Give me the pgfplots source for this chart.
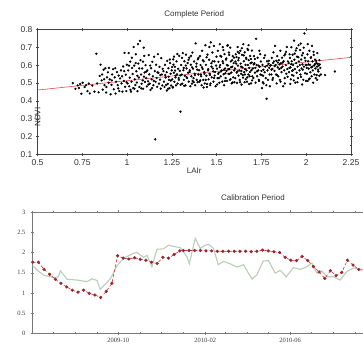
\documentclass[border=0pt]{standalone}
\usepackage{fontspec}
\setmainfont{Liberation Sans}
\newfontfamily\tnr{Liberation Serif}
\usepackage{pgfplots}
\pgfplotsset{compat=1.18}
\definecolor{regred}{RGB}{225,70,80}
\definecolor{simred}{RGB}{220,50,50}
\definecolor{markred}{RGB}{150,40,50}
\definecolor{obsgreen}{RGB}{185,205,185}
\definecolor{axgray}{RGB}{120,120,120}
\begin{document}
\begin{tikzpicture}[x=1pt,y=1pt]
\path[use as bounding box] (0,0) rectangle (363,347);
\clip (0,0) rectangle (363,347);
\begin{axis}[
  at={(37.5pt,192.5pt)}, anchor=south west,
  width=313.5pt, height=125pt, scale only axis,
  xmin=0.5, xmax=2.25, ymin=0.1, ymax=0.8,
  xtick={0.5,0.75,1,1.25,1.5,1.75,2,2.25},
  xticklabels={0.5,0.75,1,1.25,1.5,1.75,2,2.25},
  ytick={0.1,0.2,0.3,0.4,0.5,0.6,0.7,0.8},
  yticklabels={0.1,0.2,0.3,0.4,0.5,0.6,0.7,0.8},
  minor x tick num=9, minor y tick num=1,
  tick align=center, major tick length=3pt, minor tick length=1.5pt,
  axis line style={black!75, line width=0.6pt},
  tick style={black!70, line width=0.5pt},
  tick label style={font=\fontsize{8.5}{9}\selectfont, text=black!80},
  /pgf/number format/assume math mode=true,
  every axis title shift=0pt,
  title={Complete Period},
  title style={font=\fontsize{8}{9}\selectfont, text=black!80, at={(axis description cs:0.5,1)}, anchor=base, yshift=13pt},
  xlabel={LAIr},
  xlabel style={font=\fontsize{8}{9}\selectfont, text=black!80, at={(axis description cs:0.5,0)}, anchor=base, yshift=-19pt},
  ylabel={NDVI},
  ylabel style={font=\fontsize{8}{9}\selectfont, text=black!80, at={(axis description cs:0,0.5)}, anchor=center, xshift=-25pt},
]
\addplot[only marks, mark=*, mark size=0.95pt, black] table[row sep=\\] {
x y\\
0.697 0.500\\ 0.712 0.468\\ 0.724 0.487\\ 0.738 0.495\\ 0.745 0.440\\ 0.752 0.502\\ 0.763 0.478\\ 0.779 0.455\\ 0.786 0.497\\ 0.792 0.442\\ 0.731 0.472\\ 0.771 0.488\\
0.806 0.486\\ 0.818 0.452\\ 0.829 0.664\\ 0.833 0.498\\ 0.841 0.448\\ 0.847 0.540\\ 0.852 0.603\\ 0.858 0.515\\ 0.864 0.463\\ 0.869 0.575\\ 0.874 0.488\\ 0.879 0.583\\ 0.883 0.447\\ 0.888 0.532\\ 0.893 0.560\\ 0.897 0.502\\ 0.861 0.548\\ 0.872 0.521\\ 0.885 0.478\\ 0.899 0.585\\
0.903 0.521\\ 0.908 0.437\\ 0.913 0.490\\ 0.917 0.548\\ 0.922 0.578\\ 0.926 0.465\\ 0.931 0.532\\ 0.936 0.441\\ 0.939 0.507\\ 0.944 0.561\\ 0.948 0.488\\ 0.953 0.542\\ 0.957 0.455\\ 0.961 0.526\\ 0.966 0.571\\ 0.969 0.498\\ 0.974 0.452\\ 0.978 0.593\\ 0.982 0.512\\ 0.986 0.669\\ 0.989 0.479\\ 0.993 0.547\\ 0.996 0.455\\ 0.999 0.603\\ 0.915 0.515\\ 0.934 0.583\\ 0.951 0.470\\ 0.972 0.538\\ 0.984 0.567\\ 0.997 0.505\\
1.003 0.498\\ 1.006 0.571\\ 1.009 0.668\\ 1.012 0.482\\ 1.015 0.530\\ 1.018 0.620\\ 1.022 0.452\\ 1.025 0.508\\ 1.027 0.642\\ 1.031 0.551\\ 1.034 0.472\\ 1.037 0.702\\ 1.040 0.598\\ 1.043 0.521\\ 1.046 0.489\\ 1.049 0.661\\ 1.052 0.566\\ 1.055 0.503\\ 1.058 0.455\\ 1.061 0.718\\ 1.063 0.609\\ 1.066 0.531\\ 1.069 0.478\\ 1.072 0.736\\ 1.075 0.628\\ 1.078 0.548\\ 1.081 0.496\\ 1.084 0.582\\ 1.087 0.515\\ 1.090 0.468\\ 1.093 0.698\\ 1.096 0.652\\ 1.098 0.559\\ 1.100 0.507\\ 1.011 0.598\\ 1.028 0.585\\ 1.041 0.468\\ 1.057 0.541\\ 1.068 0.582\\ 1.079 0.470\\ 1.089 0.620\\ 1.019 0.462\\ 1.048 0.612\\ 1.094 0.536\\
1.103 0.600\\ 1.107 0.528\\ 1.110 0.481\\ 1.113 0.571\\ 1.117 0.510\\ 1.121 0.657\\ 1.124 0.549\\ 1.127 0.497\\ 1.131 0.462\\ 1.134 0.583\\ 1.137 0.521\\ 1.141 0.619\\ 1.144 0.538\\ 1.147 0.488\\ 1.151 0.648\\ 1.157 0.185\\ 1.155 0.567\\ 1.159 0.507\\ 1.162 0.603\\ 1.165 0.529\\ 1.168 0.479\\ 1.172 0.662\\ 1.175 0.558\\ 1.178 0.497\\ 1.181 0.591\\ 1.184 0.519\\ 1.188 0.469\\ 1.191 0.640\\ 1.194 0.548\\ 1.197 0.487\\ 1.108 0.565\\ 1.129 0.598\\ 1.149 0.512\\ 1.170 0.560\\ 1.186 0.545\\ 1.119 0.492\\ 1.139 0.472\\ 1.199 0.580\\
1.203 0.567\\ 1.206 0.508\\ 1.209 0.478\\ 1.212 0.602\\ 1.215 0.531\\ 1.218 0.489\\ 1.221 0.561\\ 1.224 0.624\\ 1.227 0.496\\ 1.231 0.583\\ 1.234 0.518\\ 1.237 0.472\\ 1.240 0.612\\ 1.243 0.552\\ 1.246 0.486\\ 1.249 0.571\\ 1.252 0.521\\ 1.255 0.477\\ 1.258 0.633\\ 1.261 0.558\\ 1.264 0.507\\ 1.267 0.591\\ 1.270 0.532\\ 1.273 0.487\\ 1.276 0.622\\ 1.279 0.549\\ 1.282 0.497\\ 1.298 0.340\\ 1.285 0.580\\ 1.288 0.528\\ 1.291 0.652\\ 1.294 0.568\\ 1.297 0.543\\ 1.299 0.491\\ 1.213 0.545\\ 1.229 0.468\\ 1.244 0.514\\ 1.256 0.475\\ 1.268 0.570\\ 1.239 0.632\\ 1.262 0.648\\ 1.281 0.663\\ 1.222 0.458\\ 1.251 0.590\\ 1.271 0.541\\ 1.289 0.518\\ 1.232 0.535\\ 1.259 0.603\\
1.302 0.601\\ 1.305 0.547\\ 1.308 0.497\\ 1.311 0.668\\ 1.314 0.572\\ 1.317 0.518\\ 1.320 0.622\\ 1.323 0.541\\ 1.326 0.487\\ 1.329 0.659\\ 1.332 0.582\\ 1.335 0.528\\ 1.338 0.612\\ 1.341 0.558\\ 1.344 0.508\\ 1.347 0.642\\ 1.350 0.571\\ 1.353 0.482\\ 1.356 0.603\\ 1.359 0.538\\ 1.362 0.497\\ 1.365 0.671\\ 1.368 0.581\\ 1.371 0.528\\ 1.374 0.621\\ 1.377 0.552\\ 1.380 0.488\\ 1.383 0.722\\ 1.386 0.592\\ 1.389 0.518\\ 1.392 0.575\\ 1.395 0.633\\ 1.398 0.548\\ 1.316 0.585\\ 1.333 0.532\\ 1.349 0.562\\ 1.363 0.588\\ 1.379 0.545\\ 1.394 0.505\\ 1.307 0.641\\ 1.328 0.598\\ 1.343 0.630\\ 1.357 0.652\\ 1.372 0.505\\ 1.388 0.609\\ 1.399 0.641\\ 1.319 0.485\\ 1.366 0.512\\
1.402 0.572\\ 1.404 0.508\\ 1.407 0.651\\ 1.410 0.601\\ 1.413 0.538\\ 1.416 0.488\\ 1.419 0.681\\ 1.422 0.579\\ 1.425 0.518\\ 1.428 0.622\\ 1.431 0.561\\ 1.434 0.498\\ 1.437 0.712\\ 1.440 0.602\\ 1.443 0.541\\ 1.446 0.478\\ 1.449 0.659\\ 1.452 0.571\\ 1.455 0.521\\ 1.458 0.631\\ 1.461 0.552\\ 1.464 0.488\\ 1.467 0.728\\ 1.470 0.611\\ 1.473 0.532\\ 1.476 0.671\\ 1.479 0.582\\ 1.482 0.508\\ 1.485 0.708\\ 1.488 0.621\\ 1.491 0.562\\ 1.494 0.482\\ 1.497 0.598\\ 1.499 0.648\\ 1.412 0.548\\ 1.423 0.628\\ 1.432 0.552\\ 1.444 0.645\\ 1.453 0.578\\ 1.462 0.545\\ 1.471 0.592\\ 1.481 0.565\\ 1.489 0.542\\ 1.408 0.515\\ 1.427 0.475\\ 1.447 0.495\\ 1.466 0.498\\ 1.486 0.528\\ 1.439 0.518\\ 1.459 0.702\\ 1.478 0.622\\ 1.418 0.588\\
1.502 0.581\\ 1.505 0.528\\ 1.507 0.681\\ 1.510 0.619\\ 1.512 0.558\\ 1.515 0.502\\ 1.518 0.718\\ 1.520 0.601\\ 1.523 0.538\\ 1.526 0.648\\ 1.528 0.571\\ 1.531 0.508\\ 1.534 0.701\\ 1.536 0.611\\ 1.539 0.549\\ 1.542 0.488\\ 1.544 0.662\\ 1.547 0.582\\ 1.550 0.528\\ 1.552 0.631\\ 1.555 0.568\\ 1.558 0.512\\ 1.560 0.709\\ 1.563 0.598\\ 1.566 0.551\\ 1.568 0.671\\ 1.571 0.579\\ 1.574 0.518\\ 1.576 0.698\\ 1.579 0.621\\ 1.582 0.559\\ 1.584 0.498\\ 1.587 0.592\\ 1.590 0.651\\ 1.592 0.532\\ 1.595 0.612\\ 1.598 0.571\\ 1.599 0.505\\ 1.509 0.552\\ 1.517 0.589\\ 1.524 0.565\\ 1.533 0.622\\ 1.541 0.575\\ 1.549 0.555\\ 1.557 0.601\\ 1.565 0.578\\ 1.573 0.552\\ 1.581 0.589\\ 1.589 0.503\\ 1.597 0.642\\ 1.503 0.492\\ 1.521 0.652\\ 1.538 0.685\\ 1.554 0.638\\ 1.570 0.658\\ 1.586 0.628\\ 1.513 0.528\\ 1.546 0.512\\ 1.562 0.712\\ 1.578 0.522\\
1.602 0.582\\ 1.604 0.528\\ 1.607 0.661\\ 1.609 0.609\\ 1.612 0.558\\ 1.614 0.501\\ 1.617 0.702\\ 1.619 0.598\\ 1.622 0.542\\ 1.624 0.641\\ 1.627 0.571\\ 1.629 0.518\\ 1.632 0.681\\ 1.634 0.609\\ 1.637 0.552\\ 1.639 0.491\\ 1.642 0.658\\ 1.644 0.588\\ 1.647 0.531\\ 1.649 0.718\\ 1.652 0.622\\ 1.654 0.561\\ 1.657 0.672\\ 1.659 0.579\\ 1.662 0.522\\ 1.664 0.642\\ 1.667 0.571\\ 1.669 0.508\\ 1.672 0.691\\ 1.674 0.601\\ 1.677 0.548\\ 1.679 0.628\\ 1.682 0.585\\ 1.684 0.538\\ 1.687 0.652\\ 1.689 0.612\\ 1.692 0.498\\ 1.694 0.572\\ 1.697 0.682\\ 1.699 0.538\\ 1.605 0.621\\ 1.611 0.645\\ 1.616 0.565\\ 1.621 0.628\\ 1.626 0.668\\ 1.631 0.505\\ 1.636 0.592\\ 1.641 0.695\\ 1.646 0.545\\ 1.651 0.655\\ 1.656 0.505\\ 1.661 0.602\\ 1.666 0.635\\ 1.671 0.532\\ 1.676 0.685\\ 1.681 0.495\\ 1.686 0.562\\ 1.691 0.635\\ 1.696 0.615\\ 1.618 0.675\\ 1.638 0.568\\ 1.658 0.548\\ 1.678 0.712\\ 1.698 0.515\\
1.702 0.581\\ 1.705 0.528\\ 1.708 0.651\\ 1.711 0.611\\ 1.714 0.558\\ 1.717 0.502\\ 1.720 0.748\\ 1.723 0.601\\ 1.726 0.538\\ 1.729 0.642\\ 1.732 0.571\\ 1.735 0.518\\ 1.738 0.681\\ 1.741 0.592\\ 1.744 0.548\\ 1.747 0.621\\ 1.750 0.568\\ 1.753 0.472\\ 1.756 0.602\\ 1.759 0.541\\ 1.762 0.498\\ 1.779 0.412\\ 1.765 0.641\\ 1.768 0.561\\ 1.771 0.592\\ 1.774 0.528\\ 1.777 0.488\\ 1.781 0.622\\ 1.784 0.571\\ 1.787 0.518\\ 1.790 0.608\\ 1.793 0.585\\ 1.796 0.548\\ 1.799 0.598\\ 1.707 0.605\\ 1.716 0.585\\ 1.725 0.565\\ 1.734 0.598\\ 1.743 0.662\\ 1.752 0.545\\ 1.761 0.575\\ 1.770 0.655\\ 1.782 0.598\\ 1.791 0.625\\ 1.713 0.635\\ 1.737 0.512\\ 1.758 0.505\\ 1.797 0.482\\
1.802 0.601\\ 1.805 0.548\\ 1.808 0.641\\ 1.811 0.579\\ 1.814 0.528\\ 1.817 0.672\\ 1.820 0.621\\ 1.823 0.568\\ 1.826 0.708\\ 1.829 0.601\\ 1.832 0.548\\ 1.835 0.498\\ 1.838 0.651\\ 1.841 0.588\\ 1.844 0.538\\ 1.847 0.628\\ 1.850 0.579\\ 1.853 0.518\\ 1.856 0.681\\ 1.859 0.611\\ 1.862 0.561\\ 1.865 0.642\\ 1.868 0.592\\ 1.871 0.482\\ 1.874 0.622\\ 1.877 0.571\\ 1.880 0.528\\ 1.883 0.662\\ 1.886 0.601\\ 1.889 0.552\\ 1.892 0.702\\ 1.895 0.579\\ 1.898 0.621\\ 1.806 0.575\\ 1.815 0.612\\ 1.824 0.595\\ 1.833 0.625\\ 1.842 0.615\\ 1.851 0.605\\ 1.860 0.585\\ 1.869 0.615\\ 1.878 0.655\\ 1.887 0.675\\ 1.896 0.535\\ 1.812 0.518\\ 1.836 0.545\\ 1.857 0.508\\ 1.881 0.498\\
1.902 0.612\\ 1.904 0.561\\ 1.907 0.661\\ 1.909 0.641\\ 1.912 0.588\\ 1.914 0.521\\ 1.917 0.701\\ 1.919 0.622\\ 1.922 0.568\\ 1.924 0.659\\ 1.927 0.601\\ 1.929 0.541\\ 1.932 0.738\\ 1.934 0.631\\ 1.937 0.579\\ 1.939 0.502\\ 1.942 0.682\\ 1.944 0.612\\ 1.947 0.558\\ 1.949 0.648\\ 1.952 0.592\\ 1.954 0.528\\ 1.957 0.712\\ 1.959 0.621\\ 1.962 0.571\\ 1.990 0.778\\ 1.964 0.601\\ 1.967 0.548\\ 1.969 0.721\\ 1.972 0.632\\ 1.974 0.582\\ 1.977 0.492\\ 1.979 0.605\\ 1.982 0.668\\ 1.984 0.518\\ 1.987 0.592\\ 1.992 0.641\\ 1.994 0.555\\ 1.997 0.602\\ 1.999 0.512\\ 1.906 0.585\\ 1.916 0.605\\ 1.926 0.572\\ 1.936 0.665\\ 1.946 0.695\\ 1.956 0.645\\ 1.966 0.685\\ 1.976 0.655\\ 1.986 0.698\\ 1.996 0.625\\ 1.911 0.495\\ 1.931 0.515\\ 1.951 0.505\\ 1.971 0.535\\ 1.981 0.575\\ 1.921 0.545\\
2.002 0.601\\ 2.004 0.552\\ 2.007 0.661\\ 2.009 0.718\\ 2.011 0.622\\ 2.014 0.581\\ 2.016 0.521\\ 2.018 0.681\\ 2.021 0.602\\ 2.023 0.561\\ 2.025 0.641\\ 2.028 0.588\\ 2.030 0.538\\ 2.032 0.708\\ 2.035 0.621\\ 2.037 0.571\\ 2.039 0.502\\ 2.042 0.658\\ 2.044 0.598\\ 2.046 0.548\\ 2.049 0.631\\ 2.051 0.582\\ 2.053 0.528\\ 2.056 0.612\\ 2.058 0.545\\ 2.060 0.592\\ 2.062 0.668\\ 2.064 0.608\\ 2.066 0.575\\ 2.068 0.565\\ 2.070 0.598\\ 2.073 0.541\\ 2.076 0.605\\ 2.079 0.585\\ 2.003 0.585\\ 2.013 0.605\\ 2.027 0.645\\ 2.041 0.675\\ 2.055 0.625\\ 2.008 0.512\\ 2.019 0.525\\ 2.034 0.592\\ 2.048 0.605\\ 2.061 0.518\\ 2.074 0.628\\ 2.082 0.548\\
2.105 0.545\\ 2.160 0.565\\
};
\addplot[regred, line width=0.6pt] coordinates {(0.5,0.461) (2.25,0.644)};
\end{axis}

\begin{axis}[
  at={(32pt,13.5pt)}, anchor=south west,
  width=442pt, height=121.5pt, scale only axis,
  xmin=-122, xmax=503, ymin=0, ymax=3,
  xtick={0,123,243,365,488},
  xticklabels={2009-10,2010-02,2010-06,{},{}},
  minor xtick={-122,-92,-61,-30,31,61,92,151,182,212,273,304,335,396,426,457},
  ytick={0,0.5,1,1.5,2,2.5,3},
  yticklabels={0,0.5,1,1.5,2,2.5,3},
  tick align=center, major tick length=3pt, minor tick length=2pt,
  axis line style={axgray, line width=0.5pt},
  tick style={axgray, line width=0.4pt},
  tick label style={font=\tnr\fontsize{6.5}{7}\selectfont, text=black!75},
  yticklabel style={xshift=-1.5pt},
  /pgf/number format/assume math mode=true,
  every axis title shift=0pt,
  title={Calibration Period},
  title style={font=\fontsize{8}{9}\selectfont, text=black!80, at={(axis description cs:0.5,1)}, anchor=base, yshift=11pt},
]
\addplot[obsgreen, line width=1.1pt] coordinates {
(-121.1,1.68) (-113.5,1.55) (-105.6,1.44) (-91.4,1.38) (-84.8,1.40) (-82.0,1.55)
(-72.5,1.34) (-58.4,1.32) (-44.2,1.28) (-37.1,1.35) (-30.1,1.31) (-25.4,1.09)
(-11.3,1.35) (-1.8,1.67) (7.5,1.86) (21.6,1.98) (26.4,2.00) (35.8,1.88)
(40.6,1.93) (47.6,1.65) (54.7,2.08) (64.0,2.09) (71.1,2.18) (78.2,2.15)
(87.6,2.12) (97.1,1.90) (100.4,1.72) (108.8,2.35) (115.9,2.10) (123.0,2.18)
(127.6,2.20) (134.7,2.10) (141.3,1.70) (148.8,1.78) (158.3,1.72) (167.8,1.64)
(177.1,1.70) (183.7,1.50) (189.4,1.34) (196.0,1.45) (204.9,1.79) (212.4,1.80)
(221.9,1.49) (229.0,1.56) (237.5,1.40) (247.8,1.63) (257.2,1.58) (266.7,1.65)
(273.8,1.74) (280.8,1.49) (287.9,1.55) (295.0,1.40) (304.3,1.40) (313.8,1.32)
(323.3,1.53) (332.6,1.62) (344.5,1.58) (353.4,1.55)
};
\addplot[simred, densely dashed, line width=0.6pt, mark=*, mark size=1.3pt,
  mark options={solid, fill=markred, draw=markred}] coordinates {
(-121,1.76) (-113,1.76) (-105,1.585) (-97,1.46) (-89,1.34) (-81,1.24) (-73,1.15)
(-65,1.07) (-57,1.02) (-49,1.07) (-41,0.99) (-33,0.95) (-25,0.89) (-17,1.04)
(-9,1.24) (-1,1.92) (7,1.86) (15,1.84) (23,1.87) (31,1.83) (39,1.81) (47,1.76)
(55,1.73) (63,1.88) (71,1.86) (79,1.95) (87,2.04)
(92,2.05) (100,2.05) (108,2.05) (116,2.05) (124,2.04) (132,2.04) (140,2.03)
(148,2.03) (156,2.03) (164,2.03) (172,2.03) (180,2.03) (188,2.02) (196,2.03)
(204,2.06) (212,2.04) (220,2.02) (228,2.00) (236,1.88) (244,1.81) (252,1.80)
(260,1.90) (268,1.80) (276,1.65) (284,1.52) (292,1.36) (300,1.55) (308,1.43)
(316,1.51) (324,1.81) (332,1.69) (340,1.58) (348,1.55)
};
\end{axis}
\end{tikzpicture}
\end{document}
